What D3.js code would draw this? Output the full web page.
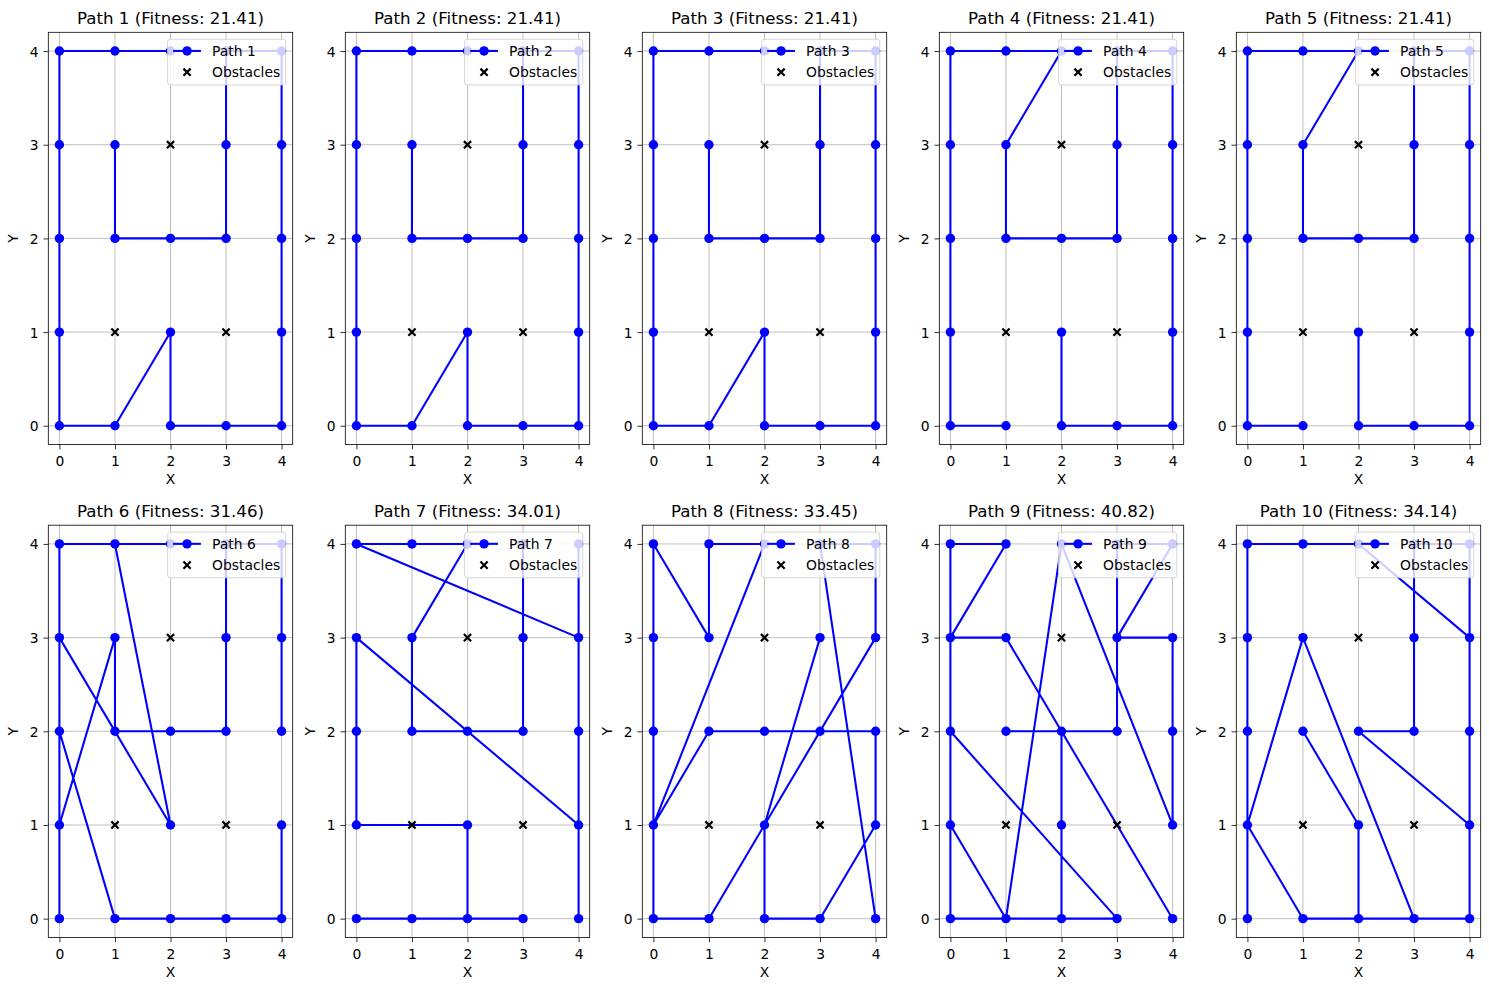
<!DOCTYPE html>
<html><head><meta charset="utf-8">
<script src="https://cdn.jsdelivr.net/npm/d3@7"></script>
<style>
body{margin:0;background:#fff;}
svg{display:block;}
text{font-family:"DejaVu Sans",sans-serif;}
</style>
</head><body>
<svg id="chart" width="1489" height="990"></svg>
<script>
// ---- data ----
const tickValues = [0, 1, 2, 3, 4];
const obstacles = [[1, 1], [2, 3], [3, 1]];
const fitness = [21.41, 21.41, 21.41, 21.41, 21.41, 31.46, 34.01, 33.45, 40.82, 34.14];

const path1 = [[1,3],[1,2],[2,2],[3,2],[3,3],[3,4],[4,4],[4,3],[4,2],[4,1],[4,0],[3,0],[2,0],[2,1],[1,0],[0,0],[0,1],[0,2],[0,3],[0,4],[1,4],[2,4]];
const path2 = [[1,3],[1,2],[2,2],[3,2],[3,3],[3,4],[4,4],[4,3],[4,2],[4,1],[4,0],[3,0],[2,0],[2,1],[1,0],[0,0],[0,1],[0,2],[0,3],[0,4],[1,4],[2,4]];
const path3 = [[1,3],[1,2],[2,2],[3,2],[3,3],[3,4],[4,4],[4,3],[4,2],[4,1],[4,0],[3,0],[2,0],[2,1],[1,0],[0,0],[0,1],[0,2],[0,3],[0,4],[1,4],[2,4]];
const path4 = [[2,1],[2,0],[3,0],[4,0],[4,1],[4,2],[4,3],[4,4],[3,4],[3,3],[3,2],[2,2],[1,2],[1,3],[2,4],[1,4],[0,4],[0,3],[0,2],[0,1],[0,0],[1,0]];
const path5 = [[2,1],[2,0],[3,0],[4,0],[4,1],[4,2],[4,3],[4,4],[3,4],[3,3],[3,2],[2,2],[1,2],[1,3],[2,4],[1,4],[0,4],[0,3],[0,2],[0,1],[0,0],[1,0]];
const path6 = [[4,1],[4,0],[3,0],[2,0],[1,0],[0,2],[0,4],[2,4],[1,4],[2,1],[0,3],[0,0],[0,1],[1,3],[1,2],[2,2],[3,2],[3,3],[3,4],[4,4],[4,3],[4,2]];
const path7 = [[1,0],[0,0],[3,0],[2,0],[2,1],[0,1],[0,2],[0,3],[4,1],[4,0],[4,2],[4,4],[4,3],[0,4],[1,4],[2,4],[1,3],[1,2],[2,2],[3,2],[3,4],[3,3]];
const path8 = [[3,3],[2,1],[2,0],[3,0],[4,1],[4,2],[3,2],[2,2],[1,2],[0,1],[2,4],[1,4],[1,3],[0,4],[0,3],[0,2],[0,0],[1,0],[4,3],[4,4],[3,4],[4,0]];
const path9 = [[4,0],[1,3],[0,3],[1,4],[0,4],[0,0],[3,0],[0,2],[0,1],[1,0],[2,4],[4,1],[4,2],[4,3],[3,3],[4,4],[3,4],[3,2],[1,2],[2,2],[2,1],[2,0]];
const path10 = [[1,2],[2,1],[2,0],[3,0],[1,3],[0,1],[1,0],[4,0],[4,2],[4,4],[3,4],[3,3],[3,2],[2,2],[4,1],[4,3],[2,4],[1,4],[0,4],[0,3],[0,2],[0,0]];

const paths = [path1, path2, path3, path4, path5, path6, path7, path8, path9, path10];
const pathLabels = paths.map((p, i) => `Path ${i + 1}`);

// ---- layout ----
const svg = d3.select('#chart');
const W = 244.4, H = 412.2;
const colLeft = c => 48.3 + c * 297;
const rowTop = [32.3, 525.2];
const FS = 13.89, TFS = 16.67;
const MR = 4.7;

paths.forEach((p, i) => {
  const col = i % 5, row = Math.floor(i / 5);
  const x0 = colLeft(col), y0 = rowTop[row];
  const x = d3.scaleLinear().domain([-0.2, 4.2]).range([x0, x0 + W]);
  const y = d3.scaleLinear().domain([-0.2, 4.2]).range([y0 + H, y0]);
  const g = svg.append('g');

  // grid
  g.append('g').selectAll('line').data(tickValues).join('line')
    .attr('x1', d => x(d)).attr('x2', d => x(d)).attr('y1', y0).attr('y2', y0 + H)
    .attr('stroke', '#b0b0b0').attr('stroke-width', 0.8);
  g.append('g').selectAll('line').data(tickValues).join('line')
    .attr('y1', d => y(d)).attr('y2', d => y(d)).attr('x1', x0).attr('x2', x0 + W)
    .attr('stroke', '#b0b0b0').attr('stroke-width', 0.8);

  // path line
  g.append('path').datum(p)
    .attr('d', d3.line().x(d => x(d[0])).y(d => y(d[1])))
    .attr('fill', 'none').attr('stroke', '#0000ff').attr('stroke-width', 2.08)
    .attr('stroke-linejoin', 'round');
  g.append('g').selectAll('circle').data(p).join('circle')
    .attr('cx', d => x(d[0])).attr('cy', d => y(d[1])).attr('r', MR)
    .attr('fill', '#0000ff');

  // obstacles
  g.append('g').selectAll('path').data(obstacles).join('path')
    .attr('transform', d => `translate(${x(d[0])},${y(d[1])})`)
    .attr('d', 'M-3.6,-3.6L3.6,3.6M-3.6,3.6L3.6,-3.6')
    .attr('stroke', '#000').attr('stroke-width', 2.2).attr('fill', 'none');

  // spines
  g.append('rect').attr('x', x0).attr('y', y0).attr('width', W).attr('height', H)
    .attr('fill', 'none').attr('stroke', '#000').attr('stroke-width', 0.8);

  // axes
  const fmt = d3.format('d');
  const ax = g.append('g').attr('transform', `translate(0,${y0 + H})`)
    .call(d3.axisBottom(x).tickValues(tickValues).tickFormat(fmt).tickSize(4.86).tickPadding(6.5).tickSizeOuter(0));
  const ay = g.append('g').attr('transform', `translate(${x0},0)`)
    .call(d3.axisLeft(y).tickValues(tickValues).tickFormat(fmt).tickSize(4.86).tickPadding(4.86).tickSizeOuter(0));
  [ax, ay].forEach(a => {
    a.select('.domain').remove();
    a.attr('font-family', null).attr('font-size', null);
    a.selectAll('line').attr('stroke', '#000').attr('stroke-width', 0.8);
    a.selectAll('text').attr('fill', '#000').style('font-size', FS + 'px')
      .style('font-family', '"DejaVu Sans", sans-serif');
  });
  ay.selectAll('text').attr('dy', '0.36em');

  // axis labels
  g.append('text').attr('x', x0 + W / 2).attr('y', y0 + H + 39.5)
    .attr('text-anchor', 'middle').style('font-size', FS + 'px').text('X');
  g.append('text')
    .attr('transform', `translate(${x0 - 30.8},${y0 + H / 2}) rotate(-90)`)
    .attr('text-anchor', 'middle').style('font-size', FS + 'px').text('Y');

  // title
  g.append('text').attr('x', x0 + W / 2).attr('y', y0 - 8.3)
    .attr('text-anchor', 'middle').style('font-size', TFS + 'px')
    .text(`${pathLabels[i]} (Fitness: ${fitness[i].toFixed(2)})`);

  // legend
  const lg = g.append('g');
  const labels = [pathLabels[i], 'Obstacles'];
  const tmp = lg.append('g').attr('opacity', 0);
  let maxW = 0;
  labels.forEach(t => {
    const tt = tmp.append('text').style('font-size', FS + 'px').text(t);
    maxW = Math.max(maxW, tt.node().getComputedTextLength());
  });
  tmp.remove();
  const pad = 0.4 * FS, hl = 2 * FS, htp = 0.8 * FS;
  const bw = pad + hl + htp + maxW + pad, bh = 45.7;
  const bx = x0 + W - 6.94 - bw, by = y0 + 6.94;
  lg.append('rect').attr('x', bx).attr('y', by).attr('width', bw).attr('height', bh)
    .attr('rx', 2.8).attr('ry', 2.8)
    .attr('fill', 'rgba(255,255,255,0.8)').attr('stroke', 'rgba(204,204,204,0.8)').attr('stroke-width', 1);
  const r1 = by + 11.7, r2 = by + 33;
  const hx0 = bx + pad, hx1 = bx + pad + hl, hc = (hx0 + hx1) / 2;
  lg.append('line').attr('x1', hx0).attr('x2', hx1).attr('y1', r1).attr('y2', r1)
    .attr('stroke', '#0000ff').attr('stroke-width', 2.08);
  lg.append('circle').attr('cx', hc).attr('cy', r1).attr('r', MR).attr('fill', '#0000ff');
  lg.append('path').attr('transform', `translate(${hc},${r2})`)
    .attr('d', 'M-3.6,-3.6L3.6,3.6M-3.6,3.6L3.6,-3.6')
    .attr('stroke', '#000').attr('stroke-width', 2.2).attr('fill', 'none');
  [r1, r2].forEach((ry, k) => {
    lg.append('text').attr('x', hx1 + htp).attr('y', ry + 5)
      .style('font-size', FS + 'px').attr('fill', '#000').text(labels[k]);
  });
});
</script>
</body></html>
